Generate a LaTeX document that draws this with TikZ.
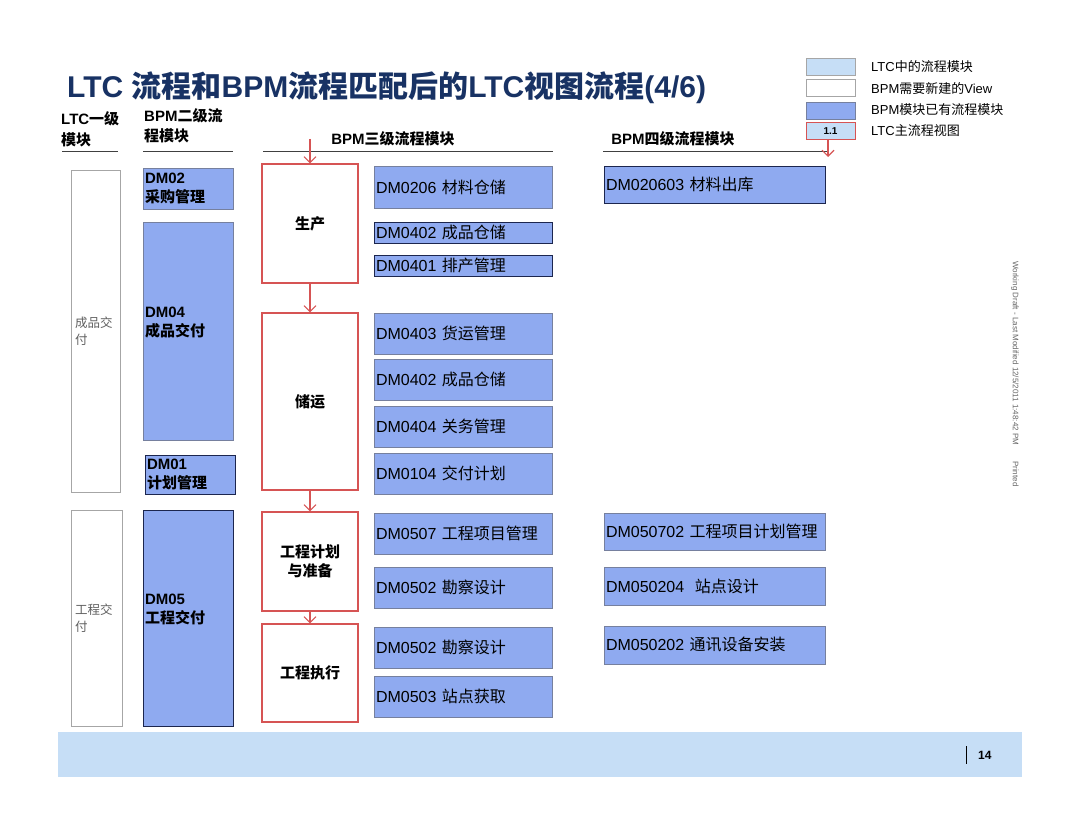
\documentclass[tikz,border=0pt]{standalone}
\usepackage{fontspec}
\setmainfont{Liberation Sans}
\newfontfamily\cjk{Noto Sans CJK SC}
\newcommand{\zh}[1]{{\cjk #1}}
\usetikzlibrary{arrows.meta,positioning}
\definecolor{navy}{RGB}{24,50,100}
\definecolor{bpmblue}{RGB}{143,170,240}
\definecolor{ltcblue}{RGB}{198,222,246}
\definecolor{flowred}{RGB}{214,84,84}
\definecolor{edgegray}{RGB}{118,128,158}
\definecolor{edgedark}{RGB}{28,38,78}
\tikzset{
  >=Stealth,
  lvone/.style={draw=gray!70, fill=white, line width=0.8pt, inner sep=4pt, align=left, text=gray!75!black, font=\fontsize{12.5}{17}\selectfont},
  lvtwo/.style={draw=edgegray, fill=bpmblue, line width=0.8pt, minimum width=90pt, text width=86pt, inner sep=2pt, align=left, font=\bfseries\fontsize{15}{19}\selectfont},
  lvthree/.style={draw=flowred, fill=white, line width=1.1pt, minimum width=96pt, align=center, font=\bfseries\fontsize{15}{19}\selectfont},
  lvfour/.style={draw=edgegray, fill=bpmblue, line width=0.8pt, minimum width=178pt, text width=174pt, inner sep=2pt, align=left, font=\fontsize{16}{19}\selectfont},
  lvfive/.style={lvfour, minimum width=221pt, text width=217pt},
  dark/.style={draw=edgedark},
  flow/.style={-{Straight Barb[length=6pt,width=12pt]}, draw=flowred, line width=1.1pt},
  head/.style={font=\bfseries\fontsize{15}{21}\selectfont, align=left, inner sep=0pt},
  rule/.style={draw=black!75, line width=0.9pt}
}

\begin{document}
\begin{tikzpicture}[x=1pt, y=-1pt,
    legbox/.style={draw=gray!70, line width=0.8pt, minimum width=49pt, minimum height=17pt, inner sep=0pt},
    legtext/.style={anchor=west, inner sep=0pt, font=\fontsize{13}{15}\selectfont}
  ]
  \useasboundingbox (0,0) rectangle (1080,832);

  % title and legend
  \node[anchor=west, inner sep=0pt, text=navy, font=\bfseries\fontsize{30}{34}\selectfont] (title) at (67,88)
    {LTC \zh{流程和}BPM\zh{流程匹配后的}LTC\zh{视图流程}(4/6)};
  \node[legbox, fill=ltcblue] (leg1) at (830.5,66.5) {};
  \node[legbox, fill=white] (leg2) at (830.5,88) {};
  \node[legbox, fill=bpmblue, draw=edgegray] (leg3) at (830.5,111) {};
  \node[legbox, fill=ltcblue, draw=flowred, font=\bfseries\fontsize{10}{12}\selectfont] (leg4) at (830.5,131) {1.1};
  \node[legtext] (legt1) at (871,67) {LTC\zh{中的流程模块}};
  \node[legtext] (legt2) at (871,88.5) {BPM\zh{需要新建的}View};
  \node[legtext] (legt3) at (871,110) {BPM\zh{模块已有流程模块}};
  \node[legtext] (legt4) at (871,131) {LTC\zh{主流程视图}};

  % column headers
  \node[head, anchor=north west] (hd1) at (61,111) {LTC\zh{一级}\\\zh{模块}};
  \node[head, anchor=north west, font=\bfseries\fontsize{15}{20}\selectfont] (hd2) at (144,108) {BPM\zh{二级流}\\\zh{程模块}};
  \node[head] (hd3) at (393,139) {BPM\zh{三级流程模块}};
  \node[head] (hd4) at (673,139) {BPM\zh{四级流程模块}};
  \coordinate (r1a) at (62,151);  \coordinate (r1b) at (118,151);
  \coordinate (r2a) at (143,151); \coordinate (r2b) at (233,151);
  \coordinate (r3a) at (263,151); \coordinate (r3b) at (553,151);
  \coordinate (r4a) at (603,151); \coordinate (r4b) at (828,151);
  \draw[rule] (r1a) -- (r1b);
  \draw[rule] (r2a) -- (r2b);
  \draw[rule] (r3a) -- (r3b);
  \draw[rule] (r4a) -- (r4b);

  % LTC level 1
  \node[lvone, minimum width=49pt, minimum height=322pt, text width=41pt] (prod) at (95.5,331) {\zh{成品交}\\\zh{付}};
  \node[lvone, minimum width=51pt, minimum height=216pt, text width=43pt] (proj) at (96.5,618) {\zh{工程交}\\\zh{付}};

  % BPM level 2
  \node[lvtwo, minimum height=41pt] (dm02) at (188,188.5) {DM02\\\zh{采购管理}};
  \node[lvtwo, minimum height=218pt] (dm04) at (188,331) {DM04\\\zh{成品交付}\\\mbox{}};
  \node[lvtwo, dark, minimum height=39pt] (dm01) at (190,474.5) {DM01\\\zh{计划管理}};
  \node[lvtwo, dark, minimum height=216pt] (dm05) at (188,618) {DM05\\\zh{工程交付}\\\mbox{}};

  % LTC main flow
  \node[lvthree, minimum height=119pt] (make) at (310,223.5) {\zh{生产}};
  \node[lvthree, minimum height=177pt] (ship) at (310,401.5) {\zh{储运}};
  \node[lvthree, minimum height=99pt] (plan) at (310,561.5) {\zh{工程计划}\\\zh{与准备}};
  \node[lvthree, minimum height=98pt] (exec) at (310,673) {\zh{工程执行}};
  \coordinate (entry) at (310,139);
  \draw[flow] (entry) -- (make.north);
  \draw[flow] (make) -- (ship);
  \draw[flow] (ship) -- (plan);
  \draw[flow] (plan) -- (exec);
  \coordinate (legend end) at (828,157);
  \draw[flow] (leg4.south -| legend end) -- (legend end);

  % BPM level 3
  \node[lvfour, minimum height=42pt] (dm0206) at (463,187) {DM0206 \zh{材料仓储}};
  \node[lvfour, dark, minimum height=21pt] (dm0402a) at (463,232.5) {DM0402 \zh{成品仓储}};
  \node[lvfour, dark, minimum height=21pt] (dm0401) at (463,265.5) {DM0401 \zh{排产管理}};
  \node[lvfour, minimum height=41pt] (dm0403) at (463,333.5) {DM0403 \zh{货运管理}};
  \node[lvfour, minimum height=41pt] (dm0402b) at (463,379.5) {DM0402 \zh{成品仓储}};
  \node[lvfour, minimum height=41pt] (dm0404) at (463,426.5) {DM0404 \zh{关务管理}};
  \node[lvfour, minimum height=41pt] (dm0104) at (463,473.5) {DM0104 \zh{交付计划}};
  \node[lvfour, minimum height=41pt] (dm0507) at (463,533.5) {DM0507 \zh{工程项目管理}};
  \node[lvfour, minimum height=41pt] (dm0502a) at (463,587.5) {DM0502 \zh{勘察设计}};
  \node[lvfour, minimum height=41pt] (dm0502b) at (463,647.5) {DM0502 \zh{勘察设计}};
  \node[lvfour, minimum height=41pt] (dm0503) at (463,696.5) {DM0503 \zh{站点获取}};

  % BPM level 4
  \node[lvfive, dark, minimum height=37pt] (dm020603) at (714.5,184.5) {DM020603 \zh{材料出库}};
  \node[lvfive, minimum height=37pt] (dm050702) at (714.5,531.5) {DM050702 \zh{工程项目计划管理}};
  \node[lvfive, minimum height=38pt] (dm050204) at (714.5,586) {DM050204 \ \zh{站点设计}};
  \node[lvfive, minimum height=38pt] (dm050202) at (714.5,645) {DM050202 \zh{通讯设备安装}};

  % side note and footer
  \node[rotate=-90, text=gray!80!black, inner sep=0pt, font=\fontsize{8}{9}\selectfont] (draft) at (1015,374)
    {Working Draft - Last Modified 12/5/2011 1:48:42 PM\qquad Printed};
  \node[fill=ltcblue, minimum width=964pt, minimum height=45pt, inner sep=0pt] (band) at (540,754.5) {};
  \node[anchor=west, inner sep=0pt, font=\bfseries\fontsize{12}{14}\selectfont] (page) at (978,755) {14};
  \coordinate (bar top) at (966,746);
  \coordinate (bar bottom) at (966,764);
  \draw[line width=0.9pt] (bar top) -- (bar bottom);
\end{tikzpicture}
\end{document}
